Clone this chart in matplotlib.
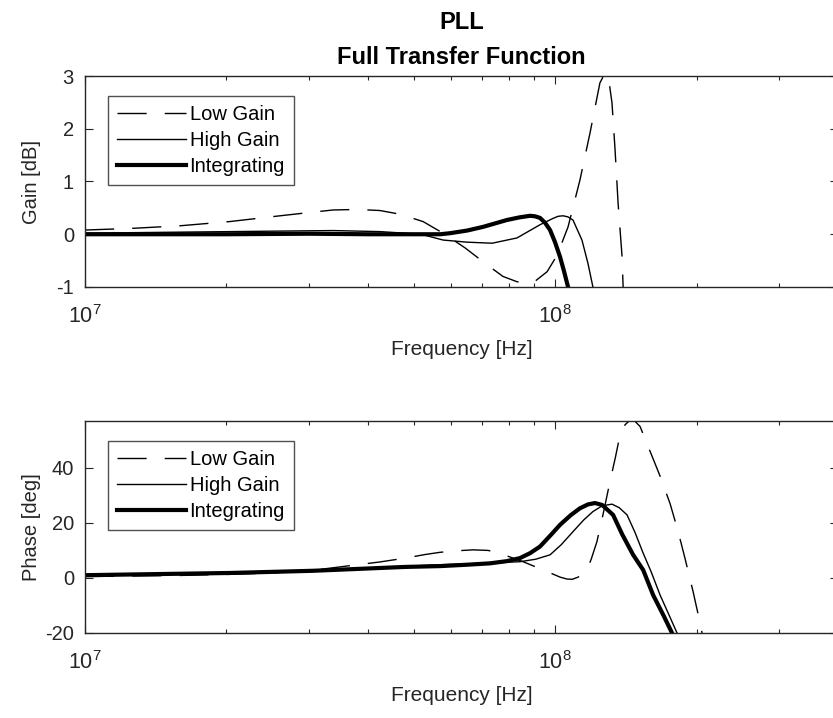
import numpy as np
import matplotlib
matplotlib.use("Agg")
import matplotlib.pyplot as plt
from matplotlib.ticker import LogLocator, NullFormatter

plt.rcParams['font.family'] = ['Liberation Sans', 'DejaVu Sans']
plt.rcParams['mathtext.fontset'] = 'custom'
plt.rcParams['mathtext.rm'] = 'Liberation Sans'
plt.rcParams['mathtext.it'] = 'Liberation Sans:italic'
plt.rcParams['mathtext.bf'] = 'Liberation Sans:bold'
plt.rcParams['axes.unicode_minus'] = False

# ---- data (frequency in MHz) ----
LABELS = ["Low Gain", "High Gain", "Integrating"]

gain_low_f = [10, 12.5, 15.9, 20.3, 26.0, 30.6, 33.7, 37.9, 42.4, 46.8, 52.4, 57.8, 64.4,
              71.7, 77.5, 83.0, 87.2, 89.8, 96.2, 101, 106.6, 113, 118.7, 124.6, 127.7,
              130.5, 132.2, 134.2, 136.2, 138.9, 139.6, 141]
gain_low = [0.08, 0.11, 0.16, 0.24, 0.35, 0.42, 0.46, 0.47, 0.45, 0.38, 0.24, 0.02, -0.26,
            -0.58, -0.80, -0.90, -0.93, -0.92, -0.71, -0.40, 0.14, 1.03, 1.92, 2.87, 3.05,
            2.85, 2.49, 1.6, 0.59, -0.43, -1.0, -1.5]

gain_high_f = [10, 15.9, 20.3, 26.0, 33.7, 42.4, 48.0, 52.4, 57.8, 65.0, 73.5, 83.0, 92.9,
               99, 101.5, 104.0, 106.5, 109.2, 114.1, 117.5, 120.4, 122]
gain_high = [0.02, 0.04, 0.05, 0.06, 0.07, 0.05, 0.02, -0.01, -0.11, -0.15, -0.17, -0.07,
             0.18, 0.30, 0.34, 0.35, 0.33, 0.27, -0.11, -0.55, -1.0, -1.3]

gain_int_f = [10, 20, 30, 40, 50, 57, 59.8, 65, 70.3, 79, 84, 88.5, 90.7, 92.9, 95.2, 97.6,
              100, 102.5, 104.5, 106.6, 108]
gain_int = [0.0, 0.0, 0.01, 0.0, 0.0, 0.0, 0.02, 0.07, 0.14, 0.27, 0.32, 0.35, 0.34, 0.31,
            0.22, 0.08, -0.15, -0.43, -0.7, -1.0, -1.3]

phase_low_f = [10, 15.9, 20.3, 25, 30.6, 36.8, 42.4, 48.0, 52.9, 56.9, 61, 66.9, 72, 76.4,
               80.2, 85.5, 91, 96.2, 102.5, 106, 108.8, 112, 117.0, 119.5, 122.8, 126.5,
               130.9, 134.5, 137.5, 140.9, 145.8, 151.7, 159.3, 167.3, 175.7, 182.7, 189.1,
               196.7, 204.5, 208]
phase_low = [0.5, 0.9, 1.3, 1.8, 2.8, 4.5, 5.8, 7.2, 8.5, 9.3, 9.8, 10.2, 10.0, 9.0, 7.6,
             5.9, 4.0, 2.3, 0.3, -0.4, -0.5, 0.3, 2.9, 7.0, 13.2, 23, 35, 44, 52, 55.6, 58,
             55, 46, 37, 27, 17, 7, -5, -18, -25]

phase_high_f = [10, 20.3, 30.6, 40, 48, 57, 70, 84.2, 91, 97.6, 103, 109.2, 115, 120.4, 126,
                132.2, 137, 142.3, 148, 154, 160, 167.3, 174, 181.8, 186]
phase_high = [1.0, 1.8, 2.7, 3.6, 4.2, 4.8, 5.3, 5.9, 6.8, 8.4, 12, 16.8, 21, 24.1, 26.2,
              26.8, 25.5, 22.9, 16.5, 9.0, 2.4, -6.2, -12.7, -20, -24]

phase_int_f = [10, 20.3, 30.6, 48, 57, 65, 72.7, 79, 84.2, 88.5, 92.9, 97.6, 102.5, 108,
               113, 117.5, 121.6, 126, 132.9, 139, 146.6, 154, 161.7, 170, 177.4, 182]
phase_int = [1.0, 1.8, 2.6, 4.0, 4.3, 4.8, 5.3, 6.1, 7.2, 9.0, 11.4, 15.3, 19.3, 22.8,
             25.3, 26.7, 27.2, 26.5, 22.9, 15.8, 8.4, 2.9, -6.2, -13.5, -20, -24]

EDGE = '#262626'
STYLES = [dict(color='black', lw=1.0, dashes=(21, 13)),
          dict(color='black', lw=1.0, linestyle='-'),
          dict(color='black', lw=3.0, linestyle='-')]

fig = plt.figure(figsize=(8.33, 7.18), dpi=100)
ax1 = fig.add_axes([85 / 833, 1 - 287 / 718, 753 / 833, 211 / 718])
ax2 = fig.add_axes([85 / 833, 1 - 633 / 718, 753 / 833, 212 / 718])

top_data = [(gain_low_f, gain_low), (gain_high_f, gain_high), (gain_int_f, gain_int)]
bot_data = [(phase_low_f, phase_low), (phase_high_f, phase_high), (phase_int_f, phase_int)]

for ax, data in [(ax1, top_data), (ax2, bot_data)]:
    for (f, v), st, lab in zip(data, STYLES, LABELS):
        ax.plot(np.array(f) * 1e6, v, label=lab, **st)
    ax.set_xscale('log')
    ax.set_xlim(1e7, 4e8)
    ax.xaxis.set_major_locator(LogLocator(base=10, numticks=10))
    ax.xaxis.set_minor_locator(LogLocator(base=10, subs=np.arange(2, 10), numticks=20))
    ax.xaxis.set_minor_formatter(NullFormatter())
    ax.tick_params(which='both', direction='in', top=True, right=True, colors=EDGE,
                   labelcolor='#262626', labelsize=14.5)
    ax.tick_params(which='major', length=6, width=0.8)
    ax.tick_params(which='minor', length=3.2, width=0.8)
    ax.tick_params(axis='x', which='major', pad=13, labelsize=15.5)
    ax.tick_params(axis='y', which='major', pad=8)
    for sp in ax.spines.values():
        sp.set_color(EDGE)
        sp.set_linewidth(1.0)
    ax.set_xlabel('Frequency [Hz]', fontsize=15, color='#262626', labelpad=9)
    leg = ax.legend(loc='upper left', fontsize=14.5, frameon=True, fancybox=False,
                    handlelength=3.4, handletextpad=0.2, borderpad=0.45,
                    labelspacing=0.35, borderaxespad=0,
                    bbox_to_anchor=(23 / 753, 1 - 20 / 211))
    leg.get_frame().set_edgecolor(EDGE)
    leg.get_frame().set_linewidth(1.0)

ax1.set_ylim(-1, 3)
ax1.set_yticks([-1, 0, 1, 2, 3])
ax1.set_ylabel('Gain [dB]', fontsize=14.5, color='#262626')
ax1.yaxis.set_label_coords(-0.058, 0.5)

ax2.set_ylim(-20, 57)
ax2.set_yticks([-20, 0, 20, 40])
ax2.set_ylabel('Phase [deg]', fontsize=14.5, color='#262626')
ax2.yaxis.set_label_coords(-0.058, 0.5)

ax1.set_title('PLL\nFull Transfer Function', fontsize=17, fontweight='bold',
              linespacing=1.65, pad=9)

fig.savefig('out.png', dpi=100)
